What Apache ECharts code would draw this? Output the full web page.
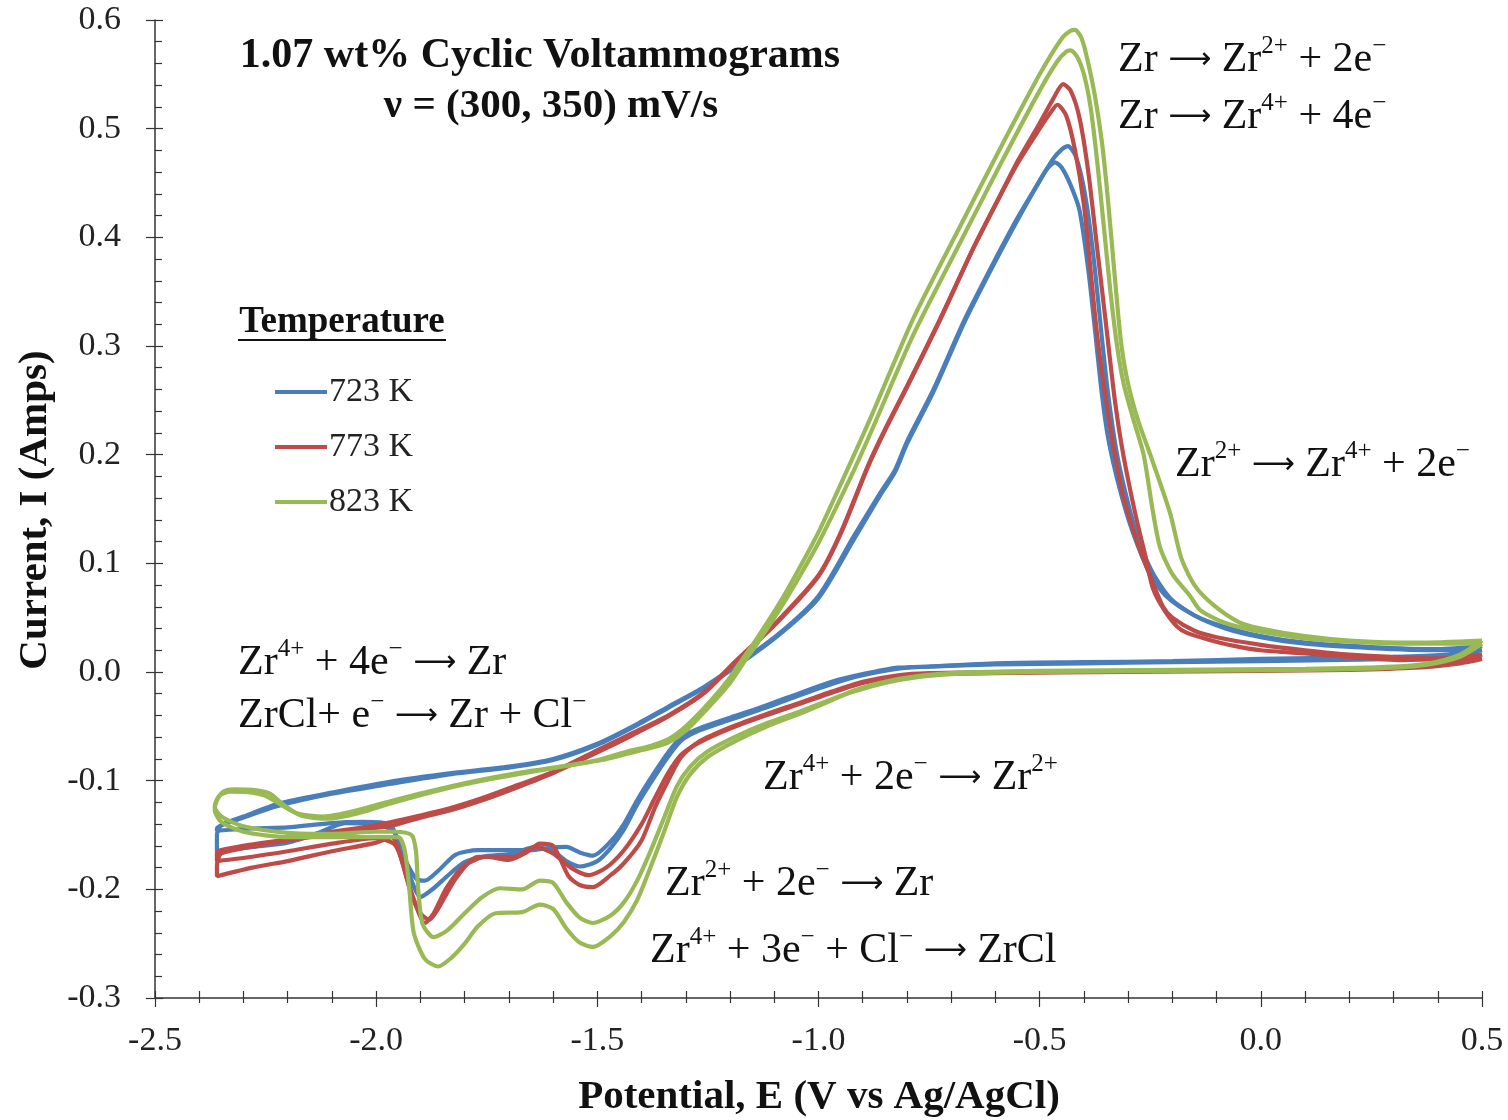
<!DOCTYPE html>
<html>
<head>
<meta charset="utf-8">
<script src="https://cdn.jsdelivr.net/npm/echarts@6/dist/echarts.min.js"></script>
<style>
html,body{margin:0;padding:0;background:#fff;}
#chart{width:1508px;height:1120px;}
</style>
</head>
<body>
<div id="chart"></div>
<script>
// ---- Data: [Potential E (V vs Ag/AgCl), Current I (A)] ----
const xTicks = [-2.5, -2.0, -1.5, -1.0, -0.5, 0.0, 0.5];
const yTicks = [-0.3, -0.2, -0.1, 0.0, 0.1, 0.2, 0.3, 0.4, 0.5, 0.6];
const temperatures = ['723 K', '773 K', '823 K'];

// 723 K, 300 mV/s
const cv723_300 = [[0.5,0.02],[0.42,0.014],[0.3,0.012],[0.15,0.011],[0.0,0.01],[-0.2,0.009],[-0.4,0.008],[-0.6,0.007],[-0.75,0.005],[-0.82,0.004],[-0.9,-0.002],[-0.97,-0.009],[-1.04,-0.019],[-1.12,-0.031],[-1.2,-0.042],[-1.27,-0.052],[-1.31,-0.06],[-1.34,-0.074],[-1.37,-0.092],[-1.41,-0.118],[-1.44,-0.14],[-1.47,-0.156],[-1.51,-0.169],[-1.54,-0.166],[-1.57,-0.161],[-1.61,-0.162],[-1.65,-0.164],[-1.7,-0.164],[-1.77,-0.164],[-1.82,-0.168],[-1.86,-0.183],[-1.89,-0.192],[-1.91,-0.19],[-1.935,-0.172],[-1.955,-0.15],[-1.97,-0.14],[-2.03,-0.138],[-2.1,-0.139],[-2.2,-0.143],[-2.28,-0.144],[-2.36,-0.146],
[-2.36,-0.144],[-2.3,-0.134],[-2.22,-0.123],[-2.1,-0.112],[-1.97,-0.103],[-1.83,-0.094],[-1.7,-0.088],[-1.6,-0.081],[-1.5,-0.067],[-1.42,-0.051],[-1.34,-0.033],[-1.26,-0.015],[-1.19,0.004],[-1.09,0.034],[-1.0,0.068],[-0.92,0.122],[-0.86,0.163],[-0.827,0.184],[-0.8,0.21],[-0.74,0.258],[-0.67,0.322],[-0.6,0.378],[-0.55,0.416],[-0.51,0.445],[-0.485,0.462],[-0.465,0.469],[-0.45,0.464],[-0.43,0.448],[-0.41,0.425],[-0.39,0.37],[-0.375,0.315],[-0.36,0.258],[-0.345,0.215],[-0.32,0.17],[-0.289,0.128],[-0.25,0.09],[-0.212,0.069],[-0.15,0.052],[-0.08,0.04],[0.0,0.032],[0.1,0.026],[0.25,0.022],[0.4,0.02],[0.5,0.02]];

// 723 K, 350 mV/s
const cv723_350 = [[0.5,0.024],[0.42,0.016],[0.3,0.014],[0.15,0.013],[0.0,0.012],[-0.2,0.01],[-0.4,0.009],[-0.6,0.008],[-0.75,0.005],[-0.82,0.003],[-0.9,-0.003],[-0.97,-0.011],[-1.04,-0.021],[-1.12,-0.033],[-1.2,-0.044],[-1.27,-0.054],[-1.31,-0.063],[-1.34,-0.078],[-1.37,-0.096],[-1.41,-0.122],[-1.44,-0.145],[-1.47,-0.162],[-1.5,-0.174],[-1.54,-0.179],[-1.57,-0.174],[-1.6,-0.165],[-1.64,-0.161],[-1.69,-0.167],[-1.76,-0.17],[-1.8,-0.175],[-1.84,-0.188],[-1.87,-0.199],[-1.9,-0.207],[-1.92,-0.192],[-1.94,-0.168],[-1.96,-0.147],[-2.0,-0.14],[-2.07,-0.139],[-2.13,-0.148],[-2.2,-0.157],[-2.28,-0.161],[-2.36,-0.165],
[-2.36,-0.15],[-2.35,-0.141],[-2.3,-0.133],[-2.22,-0.121],[-2.1,-0.111],[-1.97,-0.101],[-1.83,-0.093],[-1.7,-0.087],[-1.6,-0.08],[-1.5,-0.066],[-1.42,-0.05],[-1.34,-0.032],[-1.26,-0.014],[-1.19,0.005],[-1.09,0.035],[-1.0,0.07],[-0.92,0.125],[-0.86,0.165],[-0.827,0.186],[-0.8,0.212],[-0.74,0.26],[-0.67,0.324],[-0.6,0.38],[-0.55,0.418],[-0.5,0.452],[-0.47,0.472],[-0.45,0.481],[-0.436,0.484],[-0.42,0.476],[-0.405,0.455],[-0.39,0.42],[-0.375,0.37],[-0.36,0.31],[-0.345,0.255],[-0.325,0.2],[-0.3,0.155],[-0.275,0.12],[-0.24,0.088],[-0.2,0.066],[-0.14,0.05],[-0.07,0.04],[0.0,0.033],[0.1,0.027],[0.25,0.023],[0.4,0.021],[0.5,0.024]];

// 773 K, 300 mV/s
const cv773_300 = [[0.5,0.012],[0.45,0.008],[0.35,0.004],[0.2,0.002],[0.0,0.001],[-0.3,0.0],[-0.6,-0.001],[-0.75,-0.002],[-0.82,-0.004],[-0.9,-0.01],[-0.97,-0.019],[-1.04,-0.029],[-1.12,-0.04],[-1.2,-0.052],[-1.27,-0.065],[-1.31,-0.076],[-1.34,-0.093],[-1.37,-0.116],[-1.4,-0.14],[-1.44,-0.164],[-1.48,-0.18],[-1.52,-0.187],[-1.56,-0.18],[-1.6,-0.167],[-1.64,-0.161],[-1.69,-0.17],[-1.77,-0.17],[-1.82,-0.19],[-1.86,-0.218],[-1.88,-0.228],[-1.9,-0.222],[-1.92,-0.205],[-1.945,-0.17],[-1.96,-0.158],[-2.0,-0.153],[-2.1,-0.158],[-2.2,-0.165],[-2.28,-0.17],[-2.36,-0.174],
[-2.36,-0.166],[-2.3,-0.16],[-2.2,-0.154],[-2.1,-0.147],[-2.0,-0.141],[-1.9,-0.132],[-1.83,-0.125],[-1.76,-0.116],[-1.68,-0.104],[-1.6,-0.092],[-1.5,-0.072],[-1.42,-0.056],[-1.34,-0.04],[-1.26,-0.019],[-1.19,0.009],[-1.09,0.048],[-1.0,0.089],[-0.95,0.128],[-0.888,0.19],[-0.85,0.223],[-0.8,0.263],[-0.725,0.325],[-0.65,0.39],[-0.6,0.43],[-0.55,0.468],[-0.5,0.5],[-0.475,0.515],[-0.46,0.522],[-0.44,0.512],[-0.42,0.48],[-0.4,0.43],[-0.385,0.37],[-0.37,0.31],[-0.35,0.25],[-0.33,0.2],[-0.31,0.16],[-0.28,0.12],[-0.25,0.088],[-0.221,0.06],[-0.2,0.05],[-0.15,0.038],[-0.1,0.032],[0.0,0.025],[0.1,0.02],[0.2,0.016],[0.35,0.013],[0.5,0.012]];

// 773 K, 350 mV/s
const cv773_350 = [[0.5,0.016],[0.45,0.01],[0.35,0.005],[0.2,0.003],[0.0,0.002],[-0.3,0.001],[-0.6,0.0],[-0.75,-0.001],[-0.82,-0.003],[-0.9,-0.009],[-0.97,-0.018],[-1.04,-0.028],[-1.12,-0.039],[-1.2,-0.051],[-1.27,-0.064],[-1.31,-0.078],[-1.34,-0.1],[-1.37,-0.125],[-1.4,-0.155],[-1.44,-0.176],[-1.47,-0.187],[-1.51,-0.198],[-1.54,-0.196],[-1.565,-0.188],[-1.6,-0.16],[-1.63,-0.158],[-1.66,-0.166],[-1.7,-0.173],[-1.75,-0.17],[-1.8,-0.178],[-1.84,-0.198],[-1.87,-0.222],[-1.89,-0.231],[-1.91,-0.215],[-1.93,-0.19],[-1.95,-0.163],[-1.965,-0.152],[-2.0,-0.157],[-2.1,-0.165],[-2.2,-0.174],[-2.28,-0.18],[-2.36,-0.188],
[-2.36,-0.178],[-2.35,-0.167],[-2.27,-0.16],[-2.2,-0.155],[-2.1,-0.149],[-2.04,-0.145],[-1.97,-0.142],[-1.9,-0.134],[-1.83,-0.127],[-1.76,-0.118],[-1.68,-0.106],[-1.6,-0.093],[-1.5,-0.074],[-1.42,-0.058],[-1.34,-0.041],[-1.26,-0.02],[-1.19,0.008],[-1.09,0.047],[-1.0,0.088],[-0.95,0.127],[-0.888,0.189],[-0.85,0.222],[-0.8,0.262],[-0.725,0.324],[-0.65,0.39],[-0.6,0.43],[-0.55,0.47],[-0.5,0.505],[-0.47,0.527],[-0.447,0.541],[-0.43,0.535],[-0.41,0.51],[-0.39,0.46],[-0.37,0.39],[-0.35,0.32],[-0.33,0.25],[-0.311,0.2],[-0.284,0.146],[-0.26,0.105],[-0.244,0.077],[-0.22,0.058],[-0.19,0.042],[-0.167,0.036],[-0.12,0.03],[-0.06,0.024],[0.0,0.02],[0.1,0.017],[0.2,0.014],[0.315,0.011],[0.4,0.012],[0.5,0.016]];

// 823 K, 300 mV/s
const cv823_300 = [[0.5,0.026],[0.45,0.014],[0.38,0.007],[0.3,0.004],[0.1,0.002],[-0.2,0.001],[-0.5,0.0],[-0.7,-0.002],[-0.78,-0.005],[-0.85,-0.01],[-0.92,-0.018],[-0.97,-0.025],[-1.04,-0.036],[-1.116,-0.047],[-1.19,-0.06],[-1.25,-0.073],[-1.29,-0.087],[-1.32,-0.105],[-1.35,-0.135],[-1.38,-0.165],[-1.41,-0.192],[-1.44,-0.212],[-1.47,-0.224],[-1.51,-0.231],[-1.54,-0.226],[-1.57,-0.212],[-1.6,-0.194],[-1.63,-0.192],[-1.67,-0.2],[-1.72,-0.199],[-1.76,-0.207],[-1.8,-0.222],[-1.84,-0.238],[-1.87,-0.244],[-1.895,-0.232],[-1.905,-0.2],[-1.91,-0.165],[-1.92,-0.15],[-1.96,-0.147],[-2.0,-0.147],[-2.1,-0.149],[-2.2,-0.148],[-2.3,-0.142],[-2.35,-0.133],[-2.365,-0.124],
[-2.355,-0.114],[-2.33,-0.11],[-2.28,-0.111],[-2.25,-0.114],[-2.22,-0.121],[-2.18,-0.13],[-2.12,-0.133],[-2.05,-0.128],[-1.96,-0.118],[-1.85,-0.107],[-1.76,-0.099],[-1.65,-0.091],[-1.55,-0.085],[-1.49,-0.081],[-1.43,-0.075],[-1.38,-0.07],[-1.34,-0.065],[-1.3,-0.054],[-1.245,-0.031],[-1.2,-0.01],[-1.17,0.008],[-1.139,0.026],[-1.087,0.058],[-1.04,0.09],[-0.996,0.122],[-0.924,0.182],[-0.88,0.222],[-0.786,0.31],[-0.68,0.395],[-0.589,0.467],[-0.5,0.535],[-0.46,0.562],[-0.44,0.571],[-0.43,0.572],[-0.415,0.566],[-0.4,0.55],[-0.385,0.52],[-0.37,0.47],[-0.355,0.41],[-0.34,0.35],[-0.325,0.3],[-0.31,0.265],[-0.29,0.235],[-0.265,0.2],[-0.245,0.15],[-0.228,0.115],[-0.2,0.09],[-0.16,0.07],[-0.137,0.057],[-0.08,0.045],[0.0,0.037],[0.1,0.031],[0.2,0.028],[0.35,0.026],[0.5,0.026]];

// 823 K, 350 mV/s
const cv823_350 = [[0.5,0.029],[0.45,0.016],[0.38,0.008],[0.3,0.005],[0.1,0.003],[-0.2,0.002],[-0.5,0.001],[-0.7,-0.001],[-0.78,-0.004],[-0.85,-0.009],[-0.92,-0.017],[-0.97,-0.026],[-1.04,-0.038],[-1.116,-0.05],[-1.19,-0.064],[-1.25,-0.078],[-1.29,-0.094],[-1.32,-0.115],[-1.35,-0.148],[-1.38,-0.18],[-1.41,-0.21],[-1.44,-0.23],[-1.47,-0.243],[-1.51,-0.253],[-1.54,-0.249],[-1.57,-0.236],[-1.6,-0.218],[-1.63,-0.214],[-1.67,-0.221],[-1.73,-0.222],[-1.77,-0.234],[-1.8,-0.25],[-1.83,-0.263],[-1.86,-0.271],[-1.89,-0.264],[-1.915,-0.24],[-1.925,-0.2],[-1.935,-0.165],[-1.95,-0.152],[-2.0,-0.152],[-2.1,-0.152],[-2.2,-0.152],[-2.3,-0.147],[-2.35,-0.138],[-2.365,-0.127],
[-2.36,-0.118],[-2.345,-0.11],[-2.32,-0.108],[-2.27,-0.109],[-2.24,-0.112],[-2.21,-0.122],[-2.17,-0.132],[-2.11,-0.135],[-2.04,-0.13],[-1.96,-0.12],[-1.85,-0.108],[-1.76,-0.1],[-1.65,-0.092],[-1.55,-0.085],[-1.49,-0.08],[-1.43,-0.073],[-1.38,-0.068],[-1.34,-0.062],[-1.3,-0.05],[-1.245,-0.027],[-1.2,-0.005],[-1.17,0.013],[-1.139,0.031],[-1.087,0.064],[-1.04,0.098],[-0.996,0.132],[-0.924,0.196],[-0.88,0.236],[-0.786,0.325],[-0.68,0.41],[-0.589,0.482],[-0.5,0.55],[-0.45,0.583],[-0.43,0.59],[-0.42,0.591],[-0.405,0.583],[-0.39,0.56],[-0.375,0.53],[-0.36,0.49],[-0.35,0.453],[-0.338,0.4],[-0.325,0.34],[-0.315,0.3],[-0.3,0.265],[-0.278,0.232],[-0.25,0.2],[-0.205,0.146],[-0.18,0.105],[-0.15,0.08],[-0.108,0.062],[-0.05,0.046],[0.0,0.04],[0.1,0.033],[0.2,0.029],[0.35,0.027],[0.5,0.029]];

const colors = {'723 K': '#4a7ebb', '773 K': '#be4b48', '823 K': '#98b954'};
const SERIF = "'Liberation Serif', 'Times New Roman', serif";

const chart = echarts.init(document.getElementById('chart'), null, {renderer: 'canvas'});

function cvSeries(name, data) {
  return {
    name: name, type: 'line', data: data, xAxisIndex: 0, yAxisIndex: 0,
    showSymbol: false, symbol: 'none', smooth: 0.25, z: 3,
    lineStyle: {color: colors[name], width: 4.2},
    itemStyle: {color: colors[name]},
    emphasis: {disabled: true}, animation: false
  };
}

const richEq = {
  n: {fontFamily: SERIF, fontSize: 42, color: '#111', lineHeight: 52},
  s: {fontFamily: SERIF, fontSize: 25, color: '#111', lineHeight: 30, verticalAlign: 'top'},
  a: {fontFamily: "'DejaVu Sans', sans-serif", fontSize: 30, color: '#111', lineHeight: 52}
};
function eqText(x, y, text) {
  return {type: 'text', x: x, y: y, z: 10, silent: true,
    style: {text: text, rich: richEq, align: 'left', verticalAlign: 'middle', fill: '#111'}};
}

const tickStyle = {color: '#333', width: 1.2};
const option = {
  backgroundColor: '#fff',
  animation: false,
  grid: {left: 155, right: 26, top: 20, bottom: 122, containLabel: false},
  xAxis: [{
    type: 'value', min: xTicks[0], max: xTicks[xTicks.length - 1], interval: 0.5,
    axisLine: {show: true, onZero: false, lineStyle: {color: '#333', width: 1.5}},
    axisTick: {show: true, inside: false, length: 9, lineStyle: tickStyle},
    minorTick: {show: true, splitNumber: 5, length: 5, lineStyle: tickStyle},
    splitLine: {show: false},
    axisLabel: {show: true, margin: 26, fontFamily: SERIF, fontSize: 34, color: '#222',
      formatter: v => v.toFixed(1)}
  }, {
    type: 'value', position: 'bottom', offset: 0, min: xTicks[0], max: xTicks[xTicks.length - 1], interval: 0.5,
    axisLine: {show: false, onZero: false},
    axisTick: {show: true, inside: true, length: 7, lineStyle: tickStyle},
    minorTick: {show: true, splitNumber: 5, length: 7, lineStyle: tickStyle},
    splitLine: {show: false}, axisLabel: {show: false}
  }],
  yAxis: [{
    type: 'value', min: yTicks[0], max: yTicks[yTicks.length - 1], interval: 0.1,
    axisLine: {show: true, onZero: false, lineStyle: {color: '#333', width: 1.5}},
    axisTick: {show: true, inside: false, length: 9, lineStyle: tickStyle},
    minorTick: {show: false},
    splitLine: {show: false},
    axisLabel: {show: true, margin: 34, fontFamily: SERIF, fontSize: 34, color: '#222',
      formatter: v => v.toFixed(1)}
  }, {
    type: 'value', position: 'left', offset: 0, min: yTicks[0], max: yTicks[yTicks.length - 1], interval: 0.1,
    axisLine: {show: false, onZero: false},
    axisTick: {show: true, inside: true, length: 8, lineStyle: tickStyle},
    minorTick: {show: true, splitNumber: 5, length: 7, lineStyle: tickStyle},
    splitLine: {show: false}, axisLabel: {show: false}
  }],
  legend: {
    show: true, data: temperatures, orient: 'vertical', left: 270, top: 370,
    icon: 'rect', itemWidth: 52, itemHeight: 4, itemGap: 21, selectedMode: false,
    textStyle: {fontFamily: SERIF, fontSize: 34, color: '#222', padding: [0, 0, 0, -3]}
  },
  series: [
    cvSeries('723 K', cv723_300),
    cvSeries('723 K', cv723_350),
    cvSeries('773 K', cv773_300),
    cvSeries('773 K', cv773_350),
    cvSeries('823 K', cv823_300),
    cvSeries('823 K', cv823_350)
  ],
  graphic: [
    {type: 'text', x: 540, y: 56, silent: true,
      style: {text: '1.07 wt% Cyclic Voltammograms', align: 'center', verticalAlign: 'middle',
        fontFamily: SERIF, fontSize: 42, fontWeight: 'bold', fill: '#111'}},
    {type: 'text', x: 551, y: 106, silent: true,
      style: {text: 'ν = (300, 350) mV/s', align: 'center', verticalAlign: 'middle',
        fontFamily: SERIF, fontSize: 41, fontWeight: 'bold', fill: '#111'}},
    {type: 'text', x: 342, y: 322, silent: true,
      style: {text: 'Temperature', align: 'center', verticalAlign: 'middle',
        fontFamily: SERIF, fontSize: 37, fontWeight: 'bold', fill: '#111'}},
    {type: 'line', silent: true, shape: {x1: 238, y1: 340, x2: 446, y2: 340},
      style: {stroke: '#111', lineWidth: 2}},
    {type: 'text', x: 35, y: 510, rotation: Math.PI / 2, silent: true,
      style: {text: 'Current, I (Amps)', align: 'center', verticalAlign: 'middle',
        fontFamily: SERIF, fontSize: 41, fontWeight: 'bold', fill: '#111'}},
    {type: 'text', x: 819, y: 1097, silent: true,
      style: {text: 'Potential, E (V vs Ag/AgCl)', align: 'center', verticalAlign: 'middle',
        fontFamily: SERIF, fontSize: 41, fontWeight: 'bold', fill: '#111'}},
    eqText(1118, 60, '{n|Zr }{a|⟶}{n| Zr}{s|2+}{n| + 2e}{s|−}'),
    eqText(1118, 117, '{n|Zr }{a|⟶}{n| Zr}{s|4+}{n| + 4e}{s|−}'),
    eqText(1175, 465, '{n|Zr}{s|2+}{n| }{a|⟶}{n| Zr}{s|4+}{n| + 2e}{s|−}'),
    eqText(238, 663, '{n|Zr}{s|4+}{n| + 4e}{s|−}{n| }{a|⟶}{n| Zr}'),
    eqText(238, 716, '{n|ZrCl+ e}{s|−}{n| }{a|⟶}{n| Zr + Cl}{s|−}'),
    eqText(763, 778, '{n|Zr}{s|4+}{n| + 2e}{s|−}{n| }{a|⟶}{n| Zr}{s|2+}'),
    eqText(665, 884, '{n|Zr}{s|2+}{n| + 2e}{s|−}{n| }{a|⟶}{n| Zr}'),
    eqText(650, 951, '{n|Zr}{s|4+}{n| + 3e}{s|−}{n| + Cl}{s|−}{n| }{a|⟶}{n| ZrCl}')
  ]
};
chart.setOption(option);
</script>
</body>
</html>
